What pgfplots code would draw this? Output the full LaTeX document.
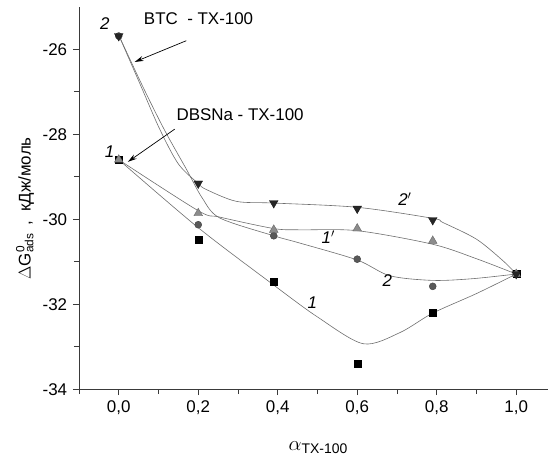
\documentclass[border=0pt]{standalone}
\usepackage{fontspec}
\setmainfont{Liberation Sans}
\usepackage{pgfplots}
\pgfplotsset{compat=1.18}
\usetikzlibrary{calc,arrows.meta}
\definecolor{crv}{HTML}{6E6E6E}
\definecolor{axc}{HTML}{3A3A3A}
\begin{document}
\fontsize{17}{20}\selectfont
\begin{tikzpicture}
\begin{axis}[
  name=ax,
  scale only axis, width=469bp, height=382.5bp,
  xmin=-0.1, xmax=1.08, ymin=-34, ymax=-25,
  axis lines*=left,
  axis line style={line width=0.9bp, color=axc},
  every tick/.style={line width=0.8bp, color=axc},
  tick align=outside,
  major tick length=6bp, minor tick length=5bp,
  xtick={0,0.2,0.4,0.6,0.8,1.0},
  minor xtick={-0.1,0.1,0.3,0.5,0.7,0.9},
  ytick={-34,-32,-30,-28,-26},
  minor ytick={-33,-31,-29,-27},
  x tick label style={/pgf/number format/.cd, fixed, fixed zerofill, precision=1, use comma, /tikz/.cd},
  y tick label style={/pgf/number format/.cd, fixed, precision=0, /tikz/.cd},
  /pgf/number format/assume math mode=true,
  clip=false,
  xlabel={$\alpha$\textsubscript{TX-100}},
  xlabel style={at={(axis description cs:0.51,-0.152)}, anchor=center, font=\fontsize{20}{22}\selectfont},
  ylabel={$\Delta$G\rlap{\textsuperscript{0}}\textsubscript{ads}\, ,\ \ кДж/моль},
  ylabel style={at={(axis description cs:-0.115,0.473)}, anchor=center},
]
% fitted curves
\addplot[crv, line width=0.6bp, smooth, tension=0.5] coordinates {
 (0,-28.6) (0.2,-30.2) (0.39,-31.55) (0.5,-32.3) (0.615,-32.93) (0.707,-32.67) (0.79,-32.21) (0.9,-31.75) (1.0,-31.29)};
\addplot[crv, line width=0.6bp, smooth, tension=0.5] coordinates {
 (0,-28.6) (0.2,-29.8) (0.254,-29.95) (0.39,-30.22) (0.455,-30.25) (0.6,-30.27) (0.79,-30.59) (0.9,-30.93) (1.0,-31.29)};
\addplot[crv, line width=0.6bp, smooth, tension=0.5] coordinates {
 (0,-25.67) (0.06,-26.87) (0.115,-27.9) (0.17,-28.82) (0.21,-29.5) (0.254,-29.97) (0.39,-30.39) (0.455,-30.56) (0.6,-30.96) (0.682,-31.33) (0.79,-31.44) (0.89,-31.4) (1.0,-31.29)};
\addplot[crv, line width=0.6bp, smooth, tension=0.5] coordinates {
 (0,-25.67) (0.055,-26.85) (0.103,-27.88) (0.15,-28.7) (0.2,-29.16) (0.22,-29.3) (0.296,-29.58) (0.39,-29.62) (0.6,-29.72) (0.79,-29.98) (0.816,-30.08) (0.9,-30.47) (0.967,-30.98) (1.0,-31.29)};
% data points
\addplot[only marks, mark=square*, mark size=3.5bp, draw=black, fill=black] coordinates {
 (0,-28.6) (0.2,-30.49) (0.39,-31.47) (0.6,-33.39) (0.79,-32.21) (1.0,-31.29)};
\addplot[only marks, mark=*, mark size=3.5bp, draw=black!75, fill=black!65] coordinates {
 (0,-25.69) (0.2,-30.13) (0.39,-30.39) (0.6,-30.94) (0.79,-31.58) (1.0,-31.29)};
\addplot[only marks, mark=triangle*, mark size=5bp, draw=black!60, fill=black!45] coordinates {
 (0,-28.6) (0.2,-29.86) (0.39,-30.25) (0.6,-30.22) (0.79,-30.51) (1.0,-31.29)};
\addplot[only marks, mark=triangle*, mark size=5bp, mark options={rotate=180}, draw=black!90, fill=black!85] coordinates {
 (0,-25.69) (0.2,-29.16) (0.39,-29.62) (0.6,-29.75) (0.79,-30.02) (1.0,-31.29)};
% curve labels
\node at (axis cs:-0.035,-25.4) {\textit{2}};
\node at (axis cs:-0.023,-28.41) {\textit{1}};
\node at (axis cs:0.72,-29.53) {\textit{2}$^{\prime}$};
\node at (axis cs:0.527,-30.43) {\textit{1}$^{\prime}$};
\node at (axis cs:0.676,-31.45) {\textit{2}};
\node at (axis cs:0.487,-31.96) {\textit{1}};
% annotations
\node[anchor=west, inner sep=0pt] at (axis cs:0.063,-25.29) {BTC\ \ - TX-100};
\node[anchor=west, inner sep=0pt] at (axis cs:0.145,-27.53) {DBSNa - TX-100};
\draw[black, line width=0.7bp, -{Stealth[length=9bp, width=5bp]}] (axis cs:0.17,-25.8) -- (axis cs:0.04,-26.3);
\draw[black, line width=0.7bp, -{Stealth[length=9bp, width=5bp]}] (axis cs:0.141,-27.88) -- (axis cs:0.023,-28.65);
\end{axis}
\pgfresetboundingbox
\path ($(ax.south west)+(-79bp,-75bp)$) rectangle ($(ax.north east)+(2bp,6.7bp)$);
\end{tikzpicture}
\end{document}
